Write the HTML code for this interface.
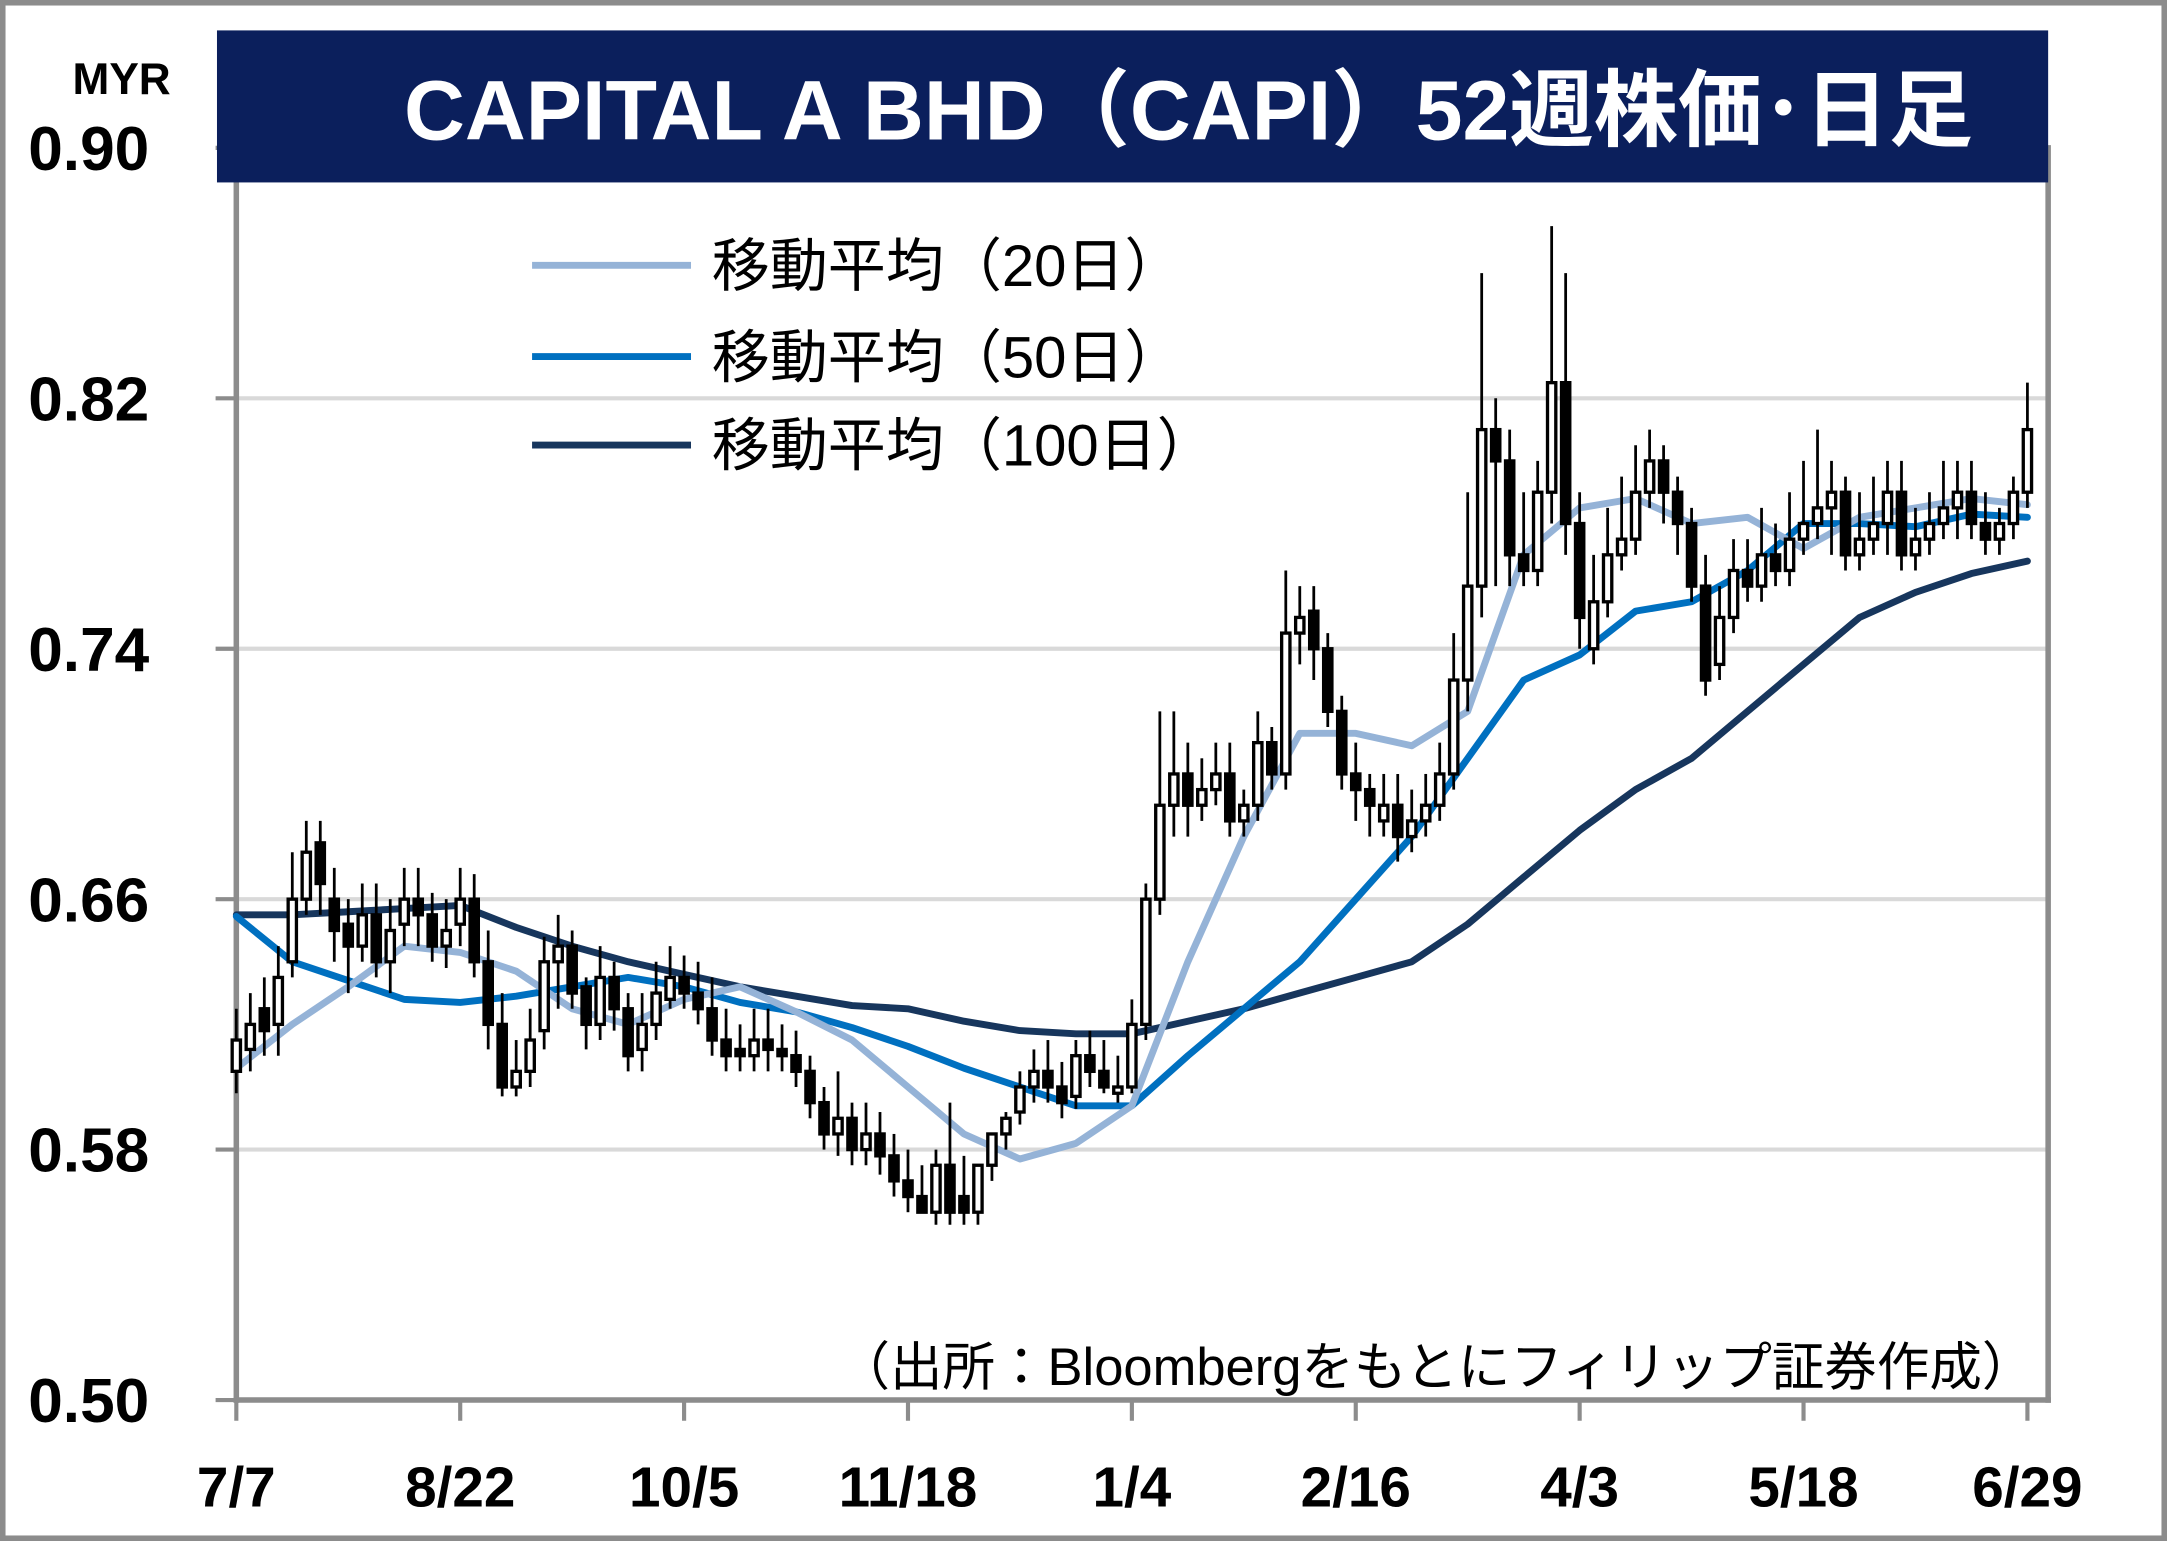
<!DOCTYPE html>
<html><head><meta charset="utf-8"><style>
html,body{margin:0;padding:0;background:#fff;}
svg{display:block;}
text{font-family:"Liberation Sans","Noto Sans CJK JP",sans-serif;}
</style></head><body>
<svg id="chart" width="2167" height="1541" viewBox="0 0 1568 1115" preserveAspectRatio="none" xmlns="http://www.w3.org/2000/svg">
<rect x="2" y="2" width="1564" height="1111" fill="#fff" stroke="#8c8c8c" stroke-width="4"/>
<g id="grid"></g>
<g id="yaxis"></g>
<g id="xaxis"></g>
<g id="mas"></g>
<g id="candles"></g>
<rect x="1480" y="105" width="4" height="910" fill="#8c8c8c"/>
<rect x="157" y="22" width="1325" height="110" fill="#0b1f5c"/>
<text x="860" y="101" text-anchor="middle" fill="#fff" font-size="61" font-weight="bold">CAPITAL A BHD（CAPI）52週株価･日足</text>
<text x="88" y="68" text-anchor="middle" font-size="32" font-weight="bold">MYR</text>
<g>
<g><line x1="385" y1="192" x2="500" y2="192" stroke="#95b3d7" stroke-width="5"/><text x="515" y="207" font-size="42">移動平均（20日）</text></g>
<g><line x1="385" y1="258" x2="500" y2="258" stroke="#0070c0" stroke-width="5"/><text x="515" y="273" font-size="42">移動平均（50日）</text></g>
<g><line x1="385" y1="322" x2="500" y2="322" stroke="#17365d" stroke-width="5"/><text x="515" y="337" font-size="42">移動平均（100日）</text></g>
</g>
<text x="1472" y="1002" text-anchor="end" font-size="38">（出所：Bloombergをもとにフィリップ証券作成）</text>
</svg>
<script>
const yTicks=[0.50,0.58,0.66,0.74,0.82,0.90];
const xTickLabels=["7/7","8/22","10/5","11/18","1/4","2/16","4/3","5/18","6/29"];
const xTickIdx=[0,16,32,48,64,80,96,112,128];
const opens=[0.605,0.612,0.625,0.62,0.64,0.66,0.678,0.66,0.652,0.645,0.655,0.64,0.652,0.66,0.655,0.645,0.652,
0.66,0.64,0.62,0.6,0.605,0.618,0.64,0.645,0.632,0.62,0.635,0.625,0.612,0.62,0.628,0.635,
0.63,0.625,0.615,0.612,0.61,0.615,0.612,0.61,0.605,0.595,0.585,0.59,0.58,0.585,0.578,0.57,
0.565,0.56,0.575,0.565,0.56,0.575,0.585,0.592,0.6,0.605,0.6,0.597,0.61,0.605,0.598,0.6,
0.62,0.66,0.69,0.7,0.69,0.695,0.70,0.685,0.69,0.71,0.70,0.745,0.752,0.74,0.72,0.70,
0.695,0.685,0.69,0.68,0.685,0.69,0.70,0.73,0.76,0.81,0.80,0.77,0.765,0.79,0.825,0.78,
0.74,0.755,0.77,0.775,0.79,0.80,0.79,0.78,0.76,0.735,0.75,0.765,0.76,0.77,0.765,0.775,
0.78,0.785,0.79,0.77,0.775,0.78,0.79,0.77,0.775,0.78,0.785,0.79,0.78,0.775,0.78,0.79];
const closes=[0.615,0.62,0.618,0.635,0.66,0.675,0.665,0.65,0.645,0.655,0.64,0.65,0.66,0.655,0.645,0.65,0.66,
0.64,0.62,0.60,0.605,0.615,0.64,0.645,0.63,0.62,0.635,0.625,0.61,0.62,0.63,0.635,0.63,
0.625,0.615,0.61,0.61,0.615,0.612,0.61,0.605,0.595,0.585,0.59,0.58,0.585,0.578,0.57,0.565,
0.56,0.575,0.56,0.56,0.575,0.585,0.59,0.6,0.605,0.6,0.595,0.61,0.605,0.6,0.6,0.62,
0.66,0.69,0.7,0.69,0.695,0.7,0.685,0.69,0.71,0.7,0.745,0.75,0.74,0.72,0.70,0.695,
0.69,0.69,0.68,0.685,0.69,0.70,0.73,0.76,0.81,0.80,0.77,0.765,0.79,0.825,0.78,0.75,
0.755,0.77,0.775,0.79,0.80,0.79,0.78,0.76,0.73,0.75,0.765,0.76,0.77,0.765,0.775,0.78,
0.785,0.79,0.77,0.775,0.78,0.79,0.77,0.775,0.78,0.785,0.79,0.78,0.775,0.78,0.79,0.81];
const highs=[0.625,0.63,0.635,0.645,0.675,0.685,0.685,0.67,0.66,0.665,0.665,0.66,0.67,0.67,0.662,0.66,0.67,
0.668,0.65,0.63,0.615,0.625,0.648,0.655,0.65,0.635,0.645,0.64,0.63,0.63,0.64,0.645,0.642,
0.64,0.635,0.625,0.62,0.625,0.625,0.62,0.618,0.61,0.6,0.605,0.595,0.595,0.592,0.585,0.58,
0.575,0.58,0.595,0.578,0.575,0.585,0.592,0.605,0.612,0.615,0.608,0.615,0.618,0.615,0.61,0.628,
0.665,0.72,0.72,0.71,0.705,0.71,0.71,0.695,0.72,0.715,0.765,0.76,0.76,0.745,0.725,0.71,
0.70,0.70,0.70,0.695,0.70,0.71,0.745,0.79,0.86,0.82,0.81,0.79,0.80,0.875,0.86,0.79,
0.77,0.785,0.795,0.805,0.81,0.805,0.795,0.785,0.77,0.76,0.775,0.775,0.785,0.78,0.79,0.80,
0.81,0.80,0.795,0.79,0.795,0.80,0.80,0.785,0.79,0.80,0.80,0.80,0.79,0.785,0.795,0.825];
const lows=[0.598,0.605,0.61,0.61,0.635,0.655,0.655,0.64,0.63,0.64,0.635,0.63,0.645,0.645,0.64,0.638,0.645,
0.635,0.612,0.597,0.597,0.6,0.612,0.625,0.625,0.612,0.615,0.618,0.605,0.605,0.615,0.625,0.625,
0.62,0.61,0.605,0.605,0.605,0.605,0.605,0.6,0.59,0.58,0.578,0.575,0.575,0.572,0.565,0.56,
0.56,0.556,0.556,0.556,0.556,0.57,0.58,0.588,0.595,0.595,0.59,0.593,0.6,0.598,0.595,0.598,
0.615,0.655,0.68,0.68,0.685,0.69,0.68,0.68,0.685,0.695,0.695,0.735,0.73,0.715,0.695,0.685,
0.68,0.68,0.672,0.675,0.68,0.685,0.695,0.72,0.75,0.76,0.76,0.76,0.76,0.78,0.77,0.74,
0.735,0.75,0.765,0.77,0.785,0.78,0.77,0.755,0.725,0.73,0.745,0.755,0.755,0.76,0.76,0.77,
0.775,0.77,0.765,0.765,0.77,0.77,0.765,0.765,0.77,0.775,0.775,0.775,0.77,0.77,0.775,0.785];
const maIdx=[0,4,8,12,16,20,24,28,32,36,40,44,48,52,56,60,64,68,72,76,80,84,88,92,96,100,104,108,112,116,120,124,128];
const ma20=[0.606,0.62,0.632,0.645,0.643,0.637,0.625,0.62,0.628,0.632,0.624,0.615,0.6,0.585,0.577,0.582,0.594,0.64,0.68,0.713,0.713,0.709,0.72,0.77,0.785,0.788,0.78,0.782,0.772,0.782,0.785,0.788,0.786];
const ma50=[0.6545,0.64,0.634,0.628,0.627,0.629,0.632,0.635,0.632,0.627,0.624,0.619,0.613,0.606,0.6,0.594,0.594,0.61,0.625,0.64,0.66,0.68,0.705,0.73,0.738,0.752,0.755,0.765,0.78,0.78,0.779,0.783,0.782];
const ma100=[0.655,0.655,0.656,0.657,0.658,0.651,0.645,0.64,0.636,0.632,0.629,0.626,0.625,0.621,0.618,0.617,0.617,0.621,0.625,0.63,0.635,0.64,0.652,0.667,0.682,0.695,0.705,0.72,0.735,0.75,0.758,0.764,0.768];

const NS="http://www.w3.org/2000/svg";
const X0=171,X1=1467,Y0=1013,Y1=107,PMIN=0.5,PMAX=0.9,N=closes.length;
function xs(i){return X0+(X1-X0)*i/(N-1);}
function ys(p){return Y0-(p-PMIN)/(PMAX-PMIN)*(Y0-Y1);}
function mk(tag,attrs,parent){const e=document.createElementNS(NS,tag);for(const k in attrs)e.setAttribute(k,attrs[k]);parent.appendChild(e);return e;}
const grid=document.getElementById('grid'),ya=document.getElementById('yaxis'),xa=document.getElementById('xaxis'),mas=document.getElementById('mas'),cg=document.getElementById('candles');
yTicks.forEach(v=>{
  const y=ys(v);
  if(v>PMIN&&v<PMAX){const g=mk('line',{x1:X0,x2:1482,y1:y,y2:y,stroke:'#d9d9d9','stroke-width':3},grid);
  
  }
  const t=mk('line',{x1:156,x2:X0,y1:y,y2:y,stroke:'#8c8c8c','stroke-width':3},ya);
  
  
  const l=mk('text',{x:108,y:y+16,'text-anchor':'end','font-size':45,'font-weight':'bold'},ya);
  l.textContent=v.toFixed(2);
  
  
});
const yl=mk('line',{x1:X0,x2:X0,y1:105,y2:Y0+2,stroke:'#8c8c8c','stroke-width':4},ya);


const xl=mk('line',{x1:X0-2,x2:1484,y1:Y0,y2:Y0,stroke:'#8c8c8c','stroke-width':4},xa);


xTickIdx.forEach((idx,k)=>{
  const x=xs(idx);
  const t=mk('line',{x1:x,x2:x,y1:Y0,y2:Y0+15,stroke:'#8c8c8c','stroke-width':3},xa);
  
  
  const l=mk('text',{x:x,y:1090,'text-anchor':'middle','font-size':41,'font-weight':'bold'},xa);
  l.textContent=xTickLabels[k];
  
  
});
function drawMA(arr,color,name){
  const d=arr.map((v,k)=>(k?'L':'M')+xs(maIdx[k]).toFixed(1)+','+ys(v).toFixed(1)).join(' ');
  const p=mk('path',{d:d,fill:'none',stroke:color,'stroke-width':5,'stroke-linejoin':'round','stroke-linecap':'round'},mas);
  
  
}
drawMA(ma100,'#17365d','ma100-line');
drawMA(ma50,'#0070c0','ma50-line');
drawMA(ma20,'#95b3d7','ma20-line');
const bw=6;
for(let i=0;i<N;i++){
  const x=xs(i),o=opens[i],c=closes[i];
  const g=mk('g',{},cg);
  
  
  mk('line',{x1:x,x2:x,y1:ys(highs[i]),y2:ys(lows[i]),stroke:'#000','stroke-width':2},g);
  const top=ys(Math.max(o,c)),h=Math.max(2,ys(Math.min(o,c))-top);
  mk('rect',{x:x-bw/2,y:top,width:bw,height:h,fill:c>=o?'#fff':'#000',stroke:'#000','stroke-width':2.4},g);
}
</script>
</body></html>
